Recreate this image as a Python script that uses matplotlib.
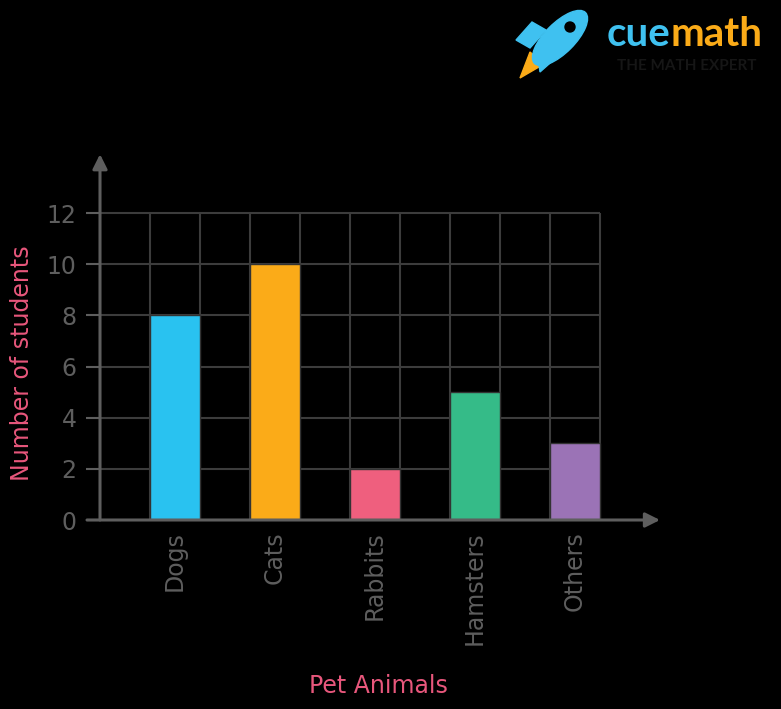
import matplotlib.pyplot as plt
from matplotlib.patches import Ellipse, Polygon, Circle

# data
pets = ['Dogs', 'Cats', 'Rabbits', 'Hamsters', 'Others']
students = [8, 10, 2, 5, 3]
bar_colors = ['#29c2f0', '#fbab18', '#ef5f7e', '#35bb88', '#9b73b6']
y_ticks = [0, 2, 4, 6, 8, 10, 12]

grey = '#5e5e5e'
grid_grey = '#3c3c3c'
pink = '#e8577c'

W, H = 781, 709
fig = plt.figure(figsize=(W / 100, H / 100), dpi=100, facecolor='black')
plt.rcParams['font.family'] = ['DejaVu Sans']

# axes placed in pixel terms
ax = fig.add_axes([100 / W, 1 - 520 / H, 565 / W, 370 / H])
ax.set_facecolor('black')
ax.set_xlim(-0.75, 4.9)
ax.set_ylim(0, 370 / 25.58)
for s in ax.spines.values():
    s.set_visible(False)

x = list(range(len(pets)))

# grid
ax.hlines(y_ticks[1:], -0.75, 4.25, color=grid_grey, lw=1.5, zorder=1)
edges = []
for i in x:
    edges += [i - 0.25, i + 0.25]
ax.vlines(edges, 0, 12, color=grid_grey, lw=1.5, zorder=1)

ax.bar(x, students, width=0.5, color=bar_colors, edgecolor='#333333', lw=1, zorder=2)

# axis arrows
ax.annotate('', xy=(4.85, 0), xytext=(-0.88, 0),
            arrowprops=dict(arrowstyle='-|>', color=grey, lw=2.2, mutation_scale=22,
                            shrinkA=0, shrinkB=0), annotation_clip=False, zorder=3)
ax.annotate('', xy=(-0.75, 14.3), xytext=(-0.75, 0),
            arrowprops=dict(arrowstyle='-|>', color=grey, lw=2.2, mutation_scale=22,
                            shrinkA=0, shrinkB=0), annotation_clip=False, zorder=3)

ax.set_yticks(y_ticks)
ax.set_yticklabels([str(v) for v in y_ticks])
ax.tick_params(axis='y', length=10, width=1.5, color=grey, labelcolor=grey,
               labelsize=17, pad=7)
ax.set_xticks(x)
ax.set_xticklabels(pets, rotation=90, va='top', ha='center')
ax.tick_params(axis='x', length=0, labelcolor=grey, labelsize=17, pad=8)

fig.text(22 / W, 1 - 363 / H, 'Number of students', rotation=90, color=pink,
         fontsize=17, ha='center', va='center')
fig.text(378 / W, 1 - 686 / H, 'Pet Animals', color=pink,
         fontsize=17, ha='center', va='center')

# logo
cue = fig.text(607 / W, 1 - 46 / H, 'cue', color='#3fc1f0', fontsize=29,
               fontweight='bold', ha='left', va='baseline', family='Lato')
fig.canvas.draw()
bb = cue.get_window_extent()
fig.text(bb.x1 / fig.bbox.width, 1 - 46 / H, 'math', color='#fbab18', fontsize=29,
         fontweight='bold', ha='left', va='baseline', family='Lato')
fig.text(687 / W, 1 - 66 / H, 'THE MATH EXPERT', color='#161616', fontsize=11,
         fontweight='bold', ha='center', va='center', family='Lato')

lax = fig.add_axes([510 / W, 1 - 85 / H, 85 / W, 85 / H])
lax.set_xlim(0, 85)
lax.set_ylim(85, 0)
lax.axis('off')
lax.set_facecolor('none')
lax.add_patch(Polygon([(10, 78), (20, 52), (34, 64)], closed=True, color='#fbab18'))
lax.add_patch(Polygon([(6, 40), (22, 22), (36, 30), (20, 48)], closed=True, color='#3fc1f0'))
lax.add_patch(Polygon([(30, 72), (48, 56), (40, 42), (28, 58)], closed=True, color='#3fc1f0'))
lax.add_patch(Ellipse((50, 38), 72, 30, angle=-45, color='#3fc1f0'))
lax.add_patch(Circle((60, 27), 5, color='black'))

fig.savefig('out.png', dpi=100, facecolor='black')
